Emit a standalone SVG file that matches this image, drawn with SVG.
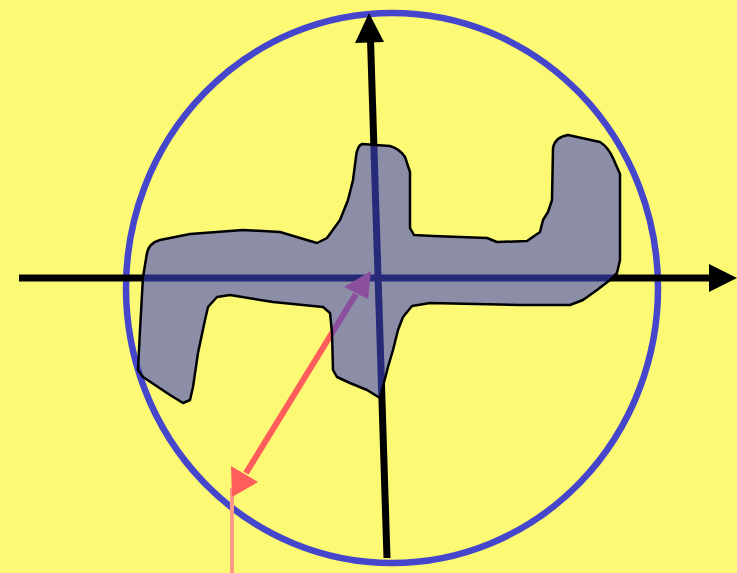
<svg xmlns="http://www.w3.org/2000/svg" width="737" height="573" viewBox="0 0 737 573">
<style>
.axis{stroke:#000;stroke-width:7;fill:none}
.head{fill:#000}
.red{stroke:#FF5C5C;stroke-width:6;fill:none}
.redhead{fill:#FF5C5C}
</style>
<rect id="background" x="0" y="0" width="737" height="573" fill="#FCF974"/>
<g id="circle">
<ellipse cx="392" cy="288" rx="266" ry="275" fill="none" stroke="#4646CC" stroke-width="6.5"/>
</g>
<g id="connectors">
<line class="axis" x1="19" y1="278" x2="712" y2="278"/>
<polygon class="head" points="737,278 709,264 709,292"/>
<line class="axis" x1="370.5" y1="40" x2="387" y2="558"/>
<polygon class="head" points="369,13 355,43 384,42"/>
<line x1="232" y1="488" x2="232" y2="573" stroke="#FF9A84" stroke-width="4"/>
<line class="red" x1="246" y1="473" x2="356" y2="294"/>
<polygon class="redhead" points="232,497 231,466 258,482"/>
<polygon class="redhead" points="371,271 344,287 368,299"/>
</g>
<g id="shape">
<path d="M362,144 L390,146 Q400,149 405,157 L410,172 L410,228 L414,235 L433,236 L487,238 L497,242 L527,241 L540,232 L543,220 L548,212 L552,200 L553,148 Q555,137 568,135 L600,142 Q608,147 613,158 L620,174 L620,260 L617,273 L610,280 L597,290 L583,300 L570,305 L520,305 L430,303 L412,306 L403,317 L398,330 L393,350 L388,367 L382,390 L380,398 L367,390 L350,383 L337,377 L333,370 L332,333 L330,313 L323,307 L273,302 L230,295 L217,297 L208,307 L205,320 L198,353 L193,387 L190,400 L183,403 L170,395 L143,377 L138,370 L140,330 L143,277 L147,253 Q149,243 160,240 L190,234 L243,230 L280,232 L300,238 L317,243 L327,238 L340,220 L348,200 L353,180 L356,157 Q357,146 362,144 Z" fill="#3F46C8" fill-opacity="0.6" stroke="#000" stroke-width="2.5" stroke-linejoin="round"/>
</g>
</svg>
